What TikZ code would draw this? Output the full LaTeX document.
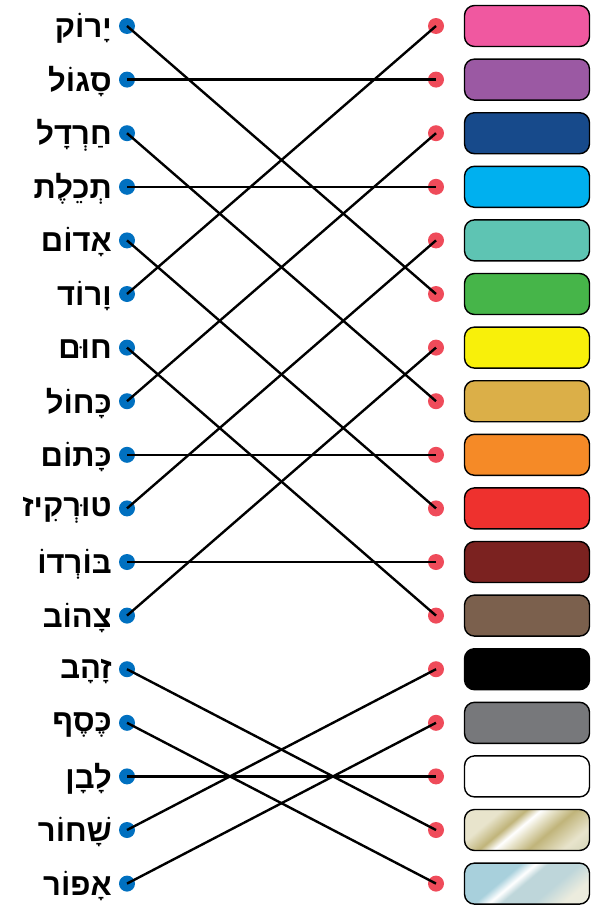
\documentclass[tikz,border=0pt]{standalone}
\usepackage{fontspec}
\newfontfamily\hebfont[Script=Hebrew]{Liberation Sans}
\TeXXeTstate=1
\usetikzlibrary{positioning}
\usepackage{xcolor}
\definecolor{dotBlue}{RGB}{0, 112, 192}
\definecolor{dotRed}{RGB}{239, 75, 90}
\definecolor{cPink}{RGB}{240, 88, 160}
\definecolor{cPurple}{RGB}{155, 89, 163}
\definecolor{cNavy}{RGB}{23, 74, 139}
\definecolor{cSky}{RGB}{0, 176, 239}
\definecolor{cTurq}{RGB}{94, 196, 179}
\definecolor{cGreen}{RGB}{70, 181, 73}
\definecolor{cYellow}{RGB}{248, 240, 10}
\definecolor{cMustard}{RGB}{219, 175, 72}
\definecolor{cOrange}{RGB}{245, 138, 39}
\definecolor{cRed}{RGB}{238, 49, 46}
\definecolor{cBordeaux}{RGB}{123, 34, 32}
\definecolor{cBrown}{RGB}{123, 96, 77}
\definecolor{cGray}{RGB}{119, 120, 123}
\definecolor{gCream}{RGB}{232, 228, 204}
\definecolor{gKhaki}{RGB}{192, 180, 122}
\definecolor{gSage}{RGB}{184, 192, 156}
\definecolor{sBlue}{RGB}{168, 208, 220}
\definecolor{sMist}{RGB}{190, 214, 218}
\definecolor{sCream}{RGB}{236, 236, 222}
\pgfdeclarehorizontalshading{goldsh}{100bp}{color(0bp)=(gCream); color(30bp)=(gCream); color(40bp)=(gKhaki); color(46bp)=(white); color(51bp)=(gCream); color(60bp)=(gKhaki); color(74bp)=(gCream); color(100bp)=(gSage)}
\pgfdeclarehorizontalshading{silversh}{100bp}{color(0bp)=(sBlue); color(38bp)=(sBlue); color(44bp)=(white); color(49bp)=(sMist); color(62bp)=(sMist); color(74bp)=(sCream); color(82bp)=(sCream); color(100bp)=(sBlue)}

\begin{document}
\begin{tikzpicture}[x=1pt, y=-1pt,
  word/.style={anchor=east, inner sep=0pt, font=\hebfont\bfseries\fontsize{31}{31}\selectfont},
  ldot/.style={circle, fill=dotBlue, minimum size=16pt, inner sep=0pt},
  rdot/.style={circle, fill=dotRed, minimum size=16pt, inner sep=0pt},
  swatch/.style={draw=black, line width=1.4pt, rounded corners=10pt, minimum width=125pt, minimum height=41pt, inner sep=0pt},
  link/.style={line width=2.4pt, black}]
  \useasboundingbox (0,0) rectangle (591,910);
  % words and left dots
  \foreach \w [count=\i from 0] in {יָרוֹק, סָגוֹל, חַרְדָל, תְכֵלֶת, אָדוֹם, וָרוֹד, חוּם, כָּחוֹל, כָּתוֹם, טוּרְקִיז, בּוֹרְדוֹ, צָהוֹב, זָהָב, כֶּסֶף, לָבָן, שָׁחוֹר, אָפוֹר} {
    \node[word] (W\i) at (112, 28+53.6*\i) {\beginR\w\endR};
    \node[ldot] (L\i) at (127, 26+53.6*\i) {};
  }
  % swatches and right dots
  \foreach \c [count=\i from 0] in {cPink, cPurple, cNavy, cSky, cTurq, cGreen, cYellow, cMustard, cOrange, cRed, cBordeaux, cBrown, black, cGray, white} {
    \node[rdot] (R\i) at (436, 26+53.6*\i) {};
    \node[swatch, fill=\c] (S\i) at (527, 26+53.6*\i) {};
  }
  \node[rdot] (R15) at (436, 26+53.6*15) {};
  \node[swatch, shade, shading=goldsh, shading angle=-50] (S15) at (527, 26+53.6*15) {};
  \node[rdot] (R16) at (436, 26+53.6*16) {};
  \node[swatch, shade, shading=silversh, shading angle=-50] (S16) at (527, 26+53.6*16) {};
  % matching lines
  \foreach \a/\b in {0/5, 1/1, 2/7, 3/3, 4/9, 5/0, 6/11, 7/2, 8/8, 9/4, 10/10, 11/6, 12/15, 13/16, 14/14, 15/12, 16/13}
    \draw[link] (L\a.center) -- (R\b.center);
\end{tikzpicture}
\end{document}
